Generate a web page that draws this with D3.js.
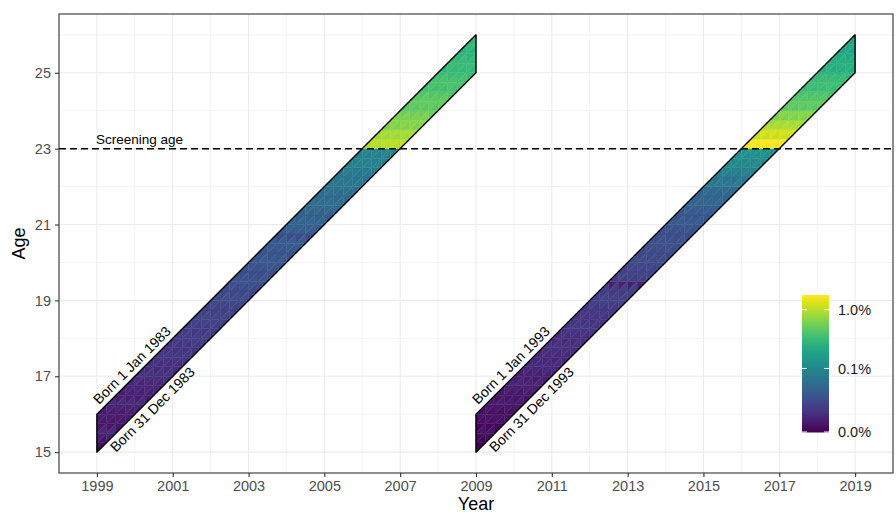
<!DOCTYPE html>
<html>
<head>
<meta charset="utf-8">
<script src="https://cdn.jsdelivr.net/npm/d3@7"></script>
<style>
  body { margin: 0; background: #fff; }
  text { font-family: "Liberation Sans", Arial, sans-serif; }
</style>
</head>
<body>
<div id="container"></div>
<script>
/* DATA */
const cohorts = [1983, 1993];
const xTicks = [1999, 2001, 2003, 2005, 2007, 2009, 2011, 2013, 2015, 2017, 2019];
const yTicks = [15, 17, 19, 21, 23, 25];
const legendBreaks = [0, 0.1, 1.0];
const screeningAge = 23;

// rate in %, one value per quarter-year age row (15.00, 15.25 ... 25.75)
// upper = upper-left Lexis triangle, lower = lower-right triangle
const upper1983 = [0.002, 0.006, 0.004, 0.005, 0.007, 0.005, 0.008, 0.010, 0.009, 0.012, 0.011,
  0.015, 0.013, 0.018, 0.016, 0.021, 0.019, 0.025, 0.023, 0.030, 0.027, 0.034, 0.022, 0.038,
  0.036, 0.048, 0.046, 0.058, 0.062, 0.075, 0.080, 0.095, 1.05, 0.90, 0.70, 0.55,
  0.50, 0.42, 0.40, 0.34, 0.33, 0.28, 0.30, 0.35];
const lower1983 = [0.003, 0.003, 0.008, 0.004, 0.005, 0.009, 0.006, 0.007, 0.012, 0.010, 0.014,
  0.012, 0.017, 0.015, 0.020, 0.017, 0.024, 0.021, 0.028, 0.025, 0.033, 0.030, 0.036, 0.034,
  0.044, 0.041, 0.055, 0.052, 0.070, 0.066, 0.090, 0.085, 0.95, 0.80, 0.62, 0.62,
  0.45, 0.48, 0.36, 0.38, 0.30, 0.32, 0.27, 0.31];
const upper1993 = [0.000, 0.002, 0.001, 0.003, 0.004, 0.003, 0.006, 0.005, 0.008, 0.007, 0.010,
  0.009, 0.012, 0.011, 0.014, 0.016, 0.015, 0.006, 0.019, 0.021, 0.020, 0.025, 0.023, 0.028,
  0.030, 0.036, 0.040, 0.050, 0.060, 0.085, 0.10, 0.13, 1.75, 1.30, 0.85, 0.70,
  0.50, 0.40, 0.36, 0.30, 0.26, 0.22, 0.21, 0.24];
const lower1993 = [0.001, 0.000, 0.003, 0.002, 0.002, 0.005, 0.004, 0.007, 0.006, 0.009, 0.008,
  0.012, 0.010, 0.014, 0.012, 0.013, 0.018, 0.017, 0.016, 0.018, 0.024, 0.022, 0.027, 0.025,
  0.034, 0.032, 0.045, 0.044, 0.075, 0.075, 0.11, 0.12, 1.60, 1.10, 0.95, 0.62,
  0.45, 0.44, 0.32, 0.33, 0.23, 0.25, 0.19, 0.20];

const rates = { 1983: [upper1983, lower1983], 1993: [upper1993, lower1993] };

/* CONSTANTS */
const width = 896, height = 514,
  margin = { top: 14, right: 3, bottom: 41, left: 59 };
const step = 0.25;

/* SCALES */
const xScale = d3.scaleLinear()
  .domain([1998, 2020])
  .range([margin.left, width - margin.right]);

const yScale = d3.scaleLinear()
  .domain([14.45, 26.55])
  .range([height - margin.bottom, margin.top]);

const maxRate = d3.max([...upper1983, ...lower1983, ...upper1993, ...lower1993]);

const color = d3.scaleSequentialSymlog(d3.interpolateViridis)
  .constant(0.01)
  .domain([0, maxRate]);

/* SVG */
const svg = d3.select("#container")
  .append("svg")
  .attr("width", width)
  .attr("height", height);

// grid
const minorX = d3.range(1998, 2021, 2), minorY = d3.range(16, 27, 2);
const grid = svg.append("g");
grid.selectAll("line.mx").data(minorX).join("line")
  .attr("x1", d => xScale(d)).attr("x2", d => xScale(d))
  .attr("y1", margin.top).attr("y2", height - margin.bottom)
  .attr("stroke", "#ebebeb").attr("stroke-width", 0.6);
grid.selectAll("line.my").data(minorY).join("line")
  .attr("y1", d => yScale(d)).attr("y2", d => yScale(d))
  .attr("x1", margin.left).attr("x2", width - margin.right)
  .attr("stroke", "#ebebeb").attr("stroke-width", 0.6);
grid.selectAll("line.gx").data(xTicks).join("line")
  .attr("x1", d => xScale(d)).attr("x2", d => xScale(d))
  .attr("y1", margin.top).attr("y2", height - margin.bottom)
  .attr("stroke", "#ebebeb").attr("stroke-width", 1.1);
grid.selectAll("line.gy").data(yTicks).join("line")
  .attr("y1", d => yScale(d)).attr("y2", d => yScale(d))
  .attr("x1", margin.left).attr("x2", width - margin.right)
  .attr("stroke", "#ebebeb").attr("stroke-width", 1.1);

// Lexis triangles for one cohort
function triangles(birth) {
  const [upper, lower] = rates[birth];
  const out = [];
  const x0 = birth + 16;
  for (let i = 0; i < 40; i++) {
    const xl = x0 + i * step, xr = xl + step;
    for (let j = 0; j <= 4; j++) {
      const r = i + j, a = 15 + r * step;
      if (j < 4) out.push({ pts: [[xl, a], [xl, a + step], [xr, a + step]], v: upper[r] });
      if (j > 0) out.push({ pts: [[xl, a], [xr, a], [xr, a + step]], v: lower[r] });
    }
  }
  return out;
}

const line = d3.line().x(d => xScale(d[0])).y(d => yScale(d[1]));

cohorts.forEach(birth => {
  const g = svg.append("g");
  g.selectAll("path")
    .data(triangles(birth))
    .join("path")
    .attr("d", d => line(d.pts) + "Z")
    .attr("fill", d => color(d.v))
    .attr("stroke", d => color(d.v))
    .attr("stroke-width", 0.4);

  const x0 = birth + 16, x1 = birth + 26;
  const outline = [[x0, 15], [x1, 25], [x1, 26], [x0, 16]];
  g.append("path")
    .attr("d", line(outline) + "Z")
    .attr("fill", "none")
    .attr("stroke", "black")
    .attr("stroke-width", 1.4)
    .attr("stroke-linejoin", "round");

  const angle = Math.atan2(yScale(16) - yScale(17), xScale(x0 + 1) - xScale(x0)) * 180 / Math.PI;

  g.append("text")
    .attr("transform", `translate(${xScale(x0)},${yScale(16)}) rotate(${-angle})`)
    .attr("x", 8).attr("y", -5)
    .attr("font-size", "14px")
    .attr("fill", "black")
    .text(`Born 1 Jan ${birth}`);

  g.append("text")
    .attr("transform", `translate(${xScale(x0)},${yScale(15)}) rotate(${-angle})`)
    .attr("x", 13).attr("y", 14)
    .attr("font-size", "14px")
    .attr("fill", "black")
    .text(`Born 31 Dec ${birth}`);
});

// screening age line
svg.append("line")
  .attr("x1", margin.left).attr("x2", width - margin.right)
  .attr("y1", yScale(screeningAge)).attr("y2", yScale(screeningAge))
  .attr("stroke", "black")
  .attr("stroke-width", 1.5)
  .attr("stroke-dasharray", "7,4");

svg.append("text")
  .attr("x", xScale(1999) - 1)
  .attr("y", yScale(screeningAge) - 5)
  .attr("font-size", "13.5px")
  .attr("fill", "black")
  .text("Screening age");

// panel border
svg.append("rect")
  .attr("x", margin.left).attr("y", margin.top)
  .attr("width", width - margin.left - margin.right)
  .attr("height", height - margin.top - margin.bottom)
  .attr("fill", "none")
  .attr("stroke", "#333333")
  .attr("stroke-width", 1.1);

/* AXES */
const xAxis = d3.axisBottom(xScale).tickValues(xTicks).tickFormat(d3.format("d"))
  .tickSize(4).tickPadding(4);
const yAxis = d3.axisLeft(yScale).tickValues(yTicks).tickSize(4).tickPadding(4);

const gx = svg.append("g")
  .attr("transform", `translate(0,${height - margin.bottom})`)
  .call(xAxis);
const gy = svg.append("g")
  .attr("transform", `translate(${margin.left},0)`)
  .call(yAxis);

[gx, gy].forEach(g => {
  g.select(".domain").remove();
  g.selectAll(".tick line").attr("stroke", "#333333").attr("stroke-width", 1.1);
  g.selectAll(".tick text")
    .attr("fill", "#4d4d4d")
    .style("font-size", "14.5px")
    .style("font-family", "'Liberation Sans', Arial, sans-serif");
});

svg.append("text")
  .attr("x", (margin.left + width - margin.right) / 2)
  .attr("y", height - 4)
  .attr("text-anchor", "middle")
  .attr("font-size", "18px")
  .text("Year");

svg.append("text")
  .attr("transform", `translate(25,${(margin.top + height - margin.bottom) / 2}) rotate(-90)`)
  .attr("text-anchor", "middle")
  .attr("font-size", "18px")
  .text("Age");

/* LEGEND */
const legendScale = d3.scaleSymlog()
  .constant(0.01)
  .domain([0, maxRate])
  .range([432, 295]);

const legend = svg.append("g");
const barX = 802, barW = 27;
legend.selectAll("rect")
  .data(d3.range(295, 432, 1))
  .join("rect")
  .attr("x", barX).attr("width", barW)
  .attr("y", d => d).attr("height", 1.5)
  .attr("fill", d => color(legendScale.invert(d + 0.5)));

legend.selectAll("line.l")
  .data(legendBreaks)
  .join("line")
  .attr("x1", barX).attr("x2", barX + 5)
  .attr("y1", d => legendScale(d)).attr("y2", d => legendScale(d))
  .attr("stroke", "white").attr("stroke-width", 1);
legend.selectAll("line.r")
  .data(legendBreaks)
  .join("line")
  .attr("x1", barX + barW - 5).attr("x2", barX + barW)
  .attr("y1", d => legendScale(d)).attr("y2", d => legendScale(d))
  .attr("stroke", "white").attr("stroke-width", 1);

legend.selectAll("text")
  .data(legendBreaks)
  .join("text")
  .attr("x", barX + barW + 9)
  .attr("y", d => legendScale(d))
  .attr("dy", "0.35em")
  .attr("font-size", "14.5px")
  .attr("fill", "#1a1a1a")
  .text(d => d3.format(".1f")(d) + "%");
</script>
</body>
</html>
